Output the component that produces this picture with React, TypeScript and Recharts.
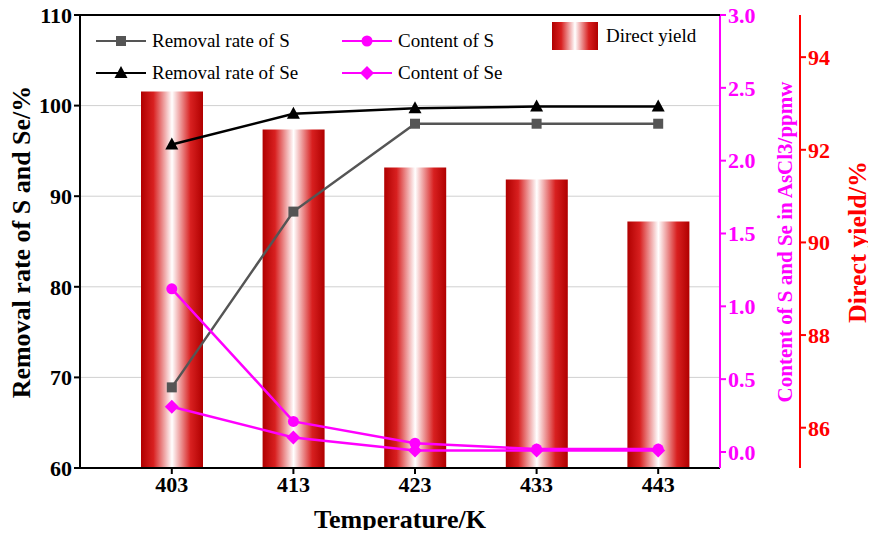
import { ComposedChart, Bar, Line, XAxis, YAxis, CartesianGrid } from 'recharts';

const temperatures = ['403', '413', '423', '433', '443'];
const removalS = [68.9, 88.3, 98.0, 98.0, 98.0];
const removalSe = [95.7, 99.1, 99.7, 99.9, 99.9];
const contentS = [1.12, 0.21, 0.06, 0.02, 0.02];
const contentSe = [0.31, 0.1, 0.01, 0.01, 0.01];
const directYield = [93.26, 92.44, 91.62, 91.36, 90.45];

const data = temperatures.map((t, i) => ({
  t,
  removalS: removalS[i],
  removalSe: removalSe[i],
  contentS: contentS[i],
  contentSe: contentSe[i],
  directYield: directYield[i],
}));

const FONT = '"Liberation Serif", "Times New Roman", serif';
const tick = (fill: string) => ({ fontFamily: FONT, fontSize: 22, fontWeight: 700, fill });

const Diamond = (color: string) => (p: any) =>
  p.cx == null ? null : (
    <path
      d={`M${p.cx},${p.cy - 7} L${p.cx + 7},${p.cy} L${p.cx},${p.cy + 7} L${p.cx - 7},${p.cy} Z`}
      fill={color}
    />
  );
const Circle = (color: string) => (p: any) =>
  p.cx == null ? null : <circle cx={p.cx} cy={p.cy} r={5.5} fill={color} />;
const Square = (color: string) => (p: any) =>
  p.cx == null ? null : <rect x={p.cx - 5} y={p.cy - 5} width={10} height={10} fill={color} />;
const Tri = (color: string) => (p: any) =>
  p.cx == null ? null : (
    <path d={`M${p.cx},${p.cy - 7} L${p.cx + 6.5},${p.cy + 5} L${p.cx - 6.5},${p.cy + 5} Z`} fill={color} />
  );

const legendItem = (left: number, top: number, color: string, marker: string, label: string) => (
  <div style={{ position: 'absolute', left, top, display: 'flex', alignItems: 'center' }}>
    <svg width={50} height={14}>
      <line x1={0} y1={7} x2={50} y2={7} stroke={color} strokeWidth={2} />
      {marker === 'sq' && <rect x={20} y={2} width={10} height={10} fill={color} />}
      {marker === 'tri' && <path d="M25,0 L31.5,12 L18.5,12 Z" fill={color} />}
      {marker === 'ci' && <circle cx={25} cy={7} r={5.5} fill={color} />}
      {marker === 'di' && <path d="M25,0 L32,7 L25,14 L18,7 Z" fill={color} />}
    </svg>
    <span style={{ marginLeft: 6, fontFamily: FONT, fontSize: 19, color: '#000' }}>{label}</span>
  </div>
);

const vLabel = (cx: number, cy: number, text: string, size: number, color: string) => (
  <div
    style={{
      position: 'absolute', left: cx, top: cy, transform: 'translate(-50%,-50%) rotate(-90deg)',
      whiteSpace: 'nowrap', fontFamily: FONT, fontSize: size, fontWeight: 700, color,
    }}
  >
    {text}
  </div>
);

export default function App() {
  return (
    <div style={{ position: 'relative', width: 876, height: 538, margin: -8, background: '#fff' }}>
      <ComposedChart width={876} height={538} data={data} margin={{ top: 15, right: 0, bottom: 0, left: 0 }}>
        <defs>
          <linearGradient id="barGrad" x1="0" y1="0" x2="1" y2="0">
            <stop offset="0%" stopColor="#b00000" />
            <stop offset="20%" stopColor="#d82020" />
            <stop offset="50%" stopColor="#ffffff" />
            <stop offset="80%" stopColor="#d82020" />
            <stop offset="100%" stopColor="#b00000" />
          </linearGradient>
        </defs>
        <CartesianGrid yAxisId="left" stroke="#d0d0d0" vertical={false} />
        <XAxis
          dataKey="t"
          padding={{ left: 31, right: 1 }}
          tick={tick('#000')}
          tickSize={6}
          stroke="#000"
          strokeWidth={2}
          height={70}
        />
        <YAxis
          yAxisId="left"
          domain={[60, 110]}
          ticks={[60, 70, 80, 90, 100, 110]}
          width={80}
          tick={tick('#000')}
          stroke="#000"
          strokeWidth={2}
        />
        <YAxis
          yAxisId="content"
          orientation="right"
          domain={[-0.11, 3.0]}
          ticks={[0, 0.5, 1, 1.5, 2, 2.5, 3]}
          tickFormatter={(v: number) => v.toFixed(1)}
          width={80}
          tick={tick('#ff00ff')}
          stroke="#ff00ff"
          strokeWidth={2}
        />
        <YAxis
          yAxisId="yield"
          orientation="right"
          domain={[85.13, 94.91]}
          ticks={[86, 88, 90, 92, 94]}
          width={76}
          tick={tick('#ff0000')}
          stroke="#ff0000"
          strokeWidth={2}
        />
        <Bar yAxisId="yield" dataKey="directYield" barSize={62} fill="url(#barGrad)" isAnimationActive={false} />
        <Line yAxisId="left" dataKey="removalS" stroke="#555" strokeWidth={2.5} dot={Square('#555')} isAnimationActive={false} />
        <Line yAxisId="left" dataKey="removalSe" stroke="#000" strokeWidth={2.5} dot={Tri('#000')} isAnimationActive={false} />
        <Line yAxisId="content" dataKey="contentS" stroke="#ff00ff" strokeWidth={2.5} dot={Circle('#ff00ff')} isAnimationActive={false} />
        <Line yAxisId="content" dataKey="contentSe" stroke="#ff00ff" strokeWidth={2.5} dot={Diamond('#ff00ff')} isAnimationActive={false} />
      </ComposedChart>
      <div style={{ position: 'absolute', left: 80, top: 14, width: 640, height: 0, borderTop: '2px solid #000' }} />
      {vLabel(22, 242, 'Removal rate of S and Se/%', 26, '#000')}
      {vLabel(785, 242, 'Content of S and Se in AsCl3/ppmw', 21, '#ff00ff')}
      {vLabel(858, 242, 'Direct yield/%', 26, '#ff0000')}
      <div
        style={{
          position: 'absolute', left: 400, top: 520, transform: 'translate(-50%,-50%)',
          whiteSpace: 'nowrap', fontFamily: FONT, fontSize: 26, fontWeight: 700,
        }}
      >
        Temperature/K
      </div>
      {legendItem(96, 30, '#555', 'sq', 'Removal rate of S')}
      {legendItem(96, 62, '#000', 'tri', 'Removal rate of Se')}
      {legendItem(342, 30, '#ff00ff', 'ci', 'Content of S')}
      {legendItem(342, 62, '#ff00ff', 'di', 'Content of Se')}
      <div style={{ position: 'absolute', left: 552, top: 22, display: 'flex', alignItems: 'center' }}>
        <div style={{ width: 46, height: 28, background: 'linear-gradient(to right,#b00000,#d82020 20%,#fff 50%,#d82020 80%,#b00000)' }} />
        <span style={{ marginLeft: 8, fontFamily: FONT, fontSize: 19 }}>Direct yield</span>
      </div>
    </div>
  );
}
